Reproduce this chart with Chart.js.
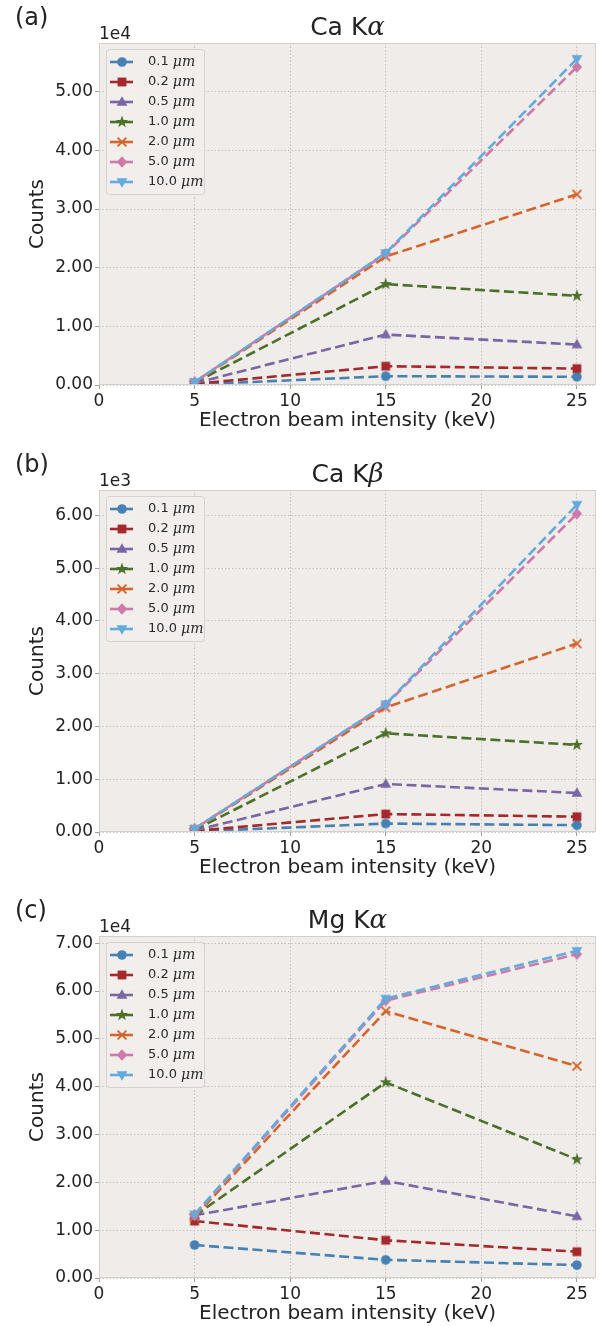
<!DOCTYPE html>
<html lang="en">
<head>
<meta charset="UTF-8">
<title>X-ray line counts vs electron beam energy</title>
<script src="https://cdn.jsdelivr.net/npm/chart.js"></script>
<style>
  body { margin:0; background:#fff; width:604px; height:1326px; position:relative; overflow:hidden; }
  canvas { position:absolute; left:0; }
</style>
</head>
<body>
<canvas id="chartA" width="604" height="447" style="top:0"></canvas>
<canvas id="chartB" width="604" height="446" style="top:447px"></canvas>
<canvas id="chartC" width="604" height="433" style="top:893px"></canvas>
<script>
// ---- data ----
const energies = [5, 15, 25];                 // keV
const thickness = ['0.1', '0.2', '0.5', '1.0', '2.0', '5.0', '10.0'];
const xTicks = [0, 5, 10, 15, 20, 25];

// Ca K-alpha counts, one row per thickness (x = 5, 15, 25 keV)
const caKaCounts = [
  [100, 1500, 1400],
  [200, 3200, 2800],
  [300, 8600, 6900],
  [400, 17200, 15200],
  [400, 21900, 32500],
  [500, 22400, 54200],
  [500, 22500, 55600]
];
// Ca K-beta counts
const caKbCounts = [
  [10, 160, 130],
  [20, 340, 290],
  [30, 910, 740],
  [40, 1870, 1650],
  [50, 2360, 3570],
  [60, 2410, 6030],
  [60, 2420, 6200]
];
// Mg K-alpha counts
const mgKaCounts = [
  [6900, 3800, 2700],
  [11900, 7900, 5500],
  [13100, 20300, 12900],
  [13000, 40900, 24800],
  [12800, 55800, 44300],
  [13100, 58000, 67700],
  [13300, 58400, 68400]
];
const yTicksA = [0, 1, 2, 3, 4, 5];
const yTicksB = [0, 1, 2, 3, 4, 5, 6];
const yTicksC = [0, 1, 2, 3, 4, 5, 6, 7];

// bmh-like colours (a bit muted, as in the scan) and markers
const colors = ['#4581b4', '#a5282d', '#7a66a5', '#4b7029', '#d5652c', '#cd7aa8', '#62abdc'];
const markers = ['circle', 'square', 'triangle', 'star', 'x', 'diamond', 'tridown'];
const axesBg = '#efece9';
const textColor = '#222';

function markerImage(kind, color) {
  const s = 16, c = document.createElement('canvas');
  c.width = c.height = s;
  const g = c.getContext('2d');
  g.translate(s / 2, s / 2);
  g.fillStyle = color; g.strokeStyle = color;
  g.beginPath();
  switch (kind) {
    case 'circle': g.arc(0, 0, 4.8, 0, Math.PI * 2); break;
    case 'square': g.rect(-4.4, -4.4, 8.8, 8.8); break;
    case 'triangle': g.moveTo(0, -5.8); g.lineTo(5.4, 3.8); g.lineTo(-5.4, 3.8); g.closePath(); break;
    case 'tridown': g.moveTo(0, 5.8); g.lineTo(5.4, -3.8); g.lineTo(-5.4, -3.8); g.closePath(); break;
    case 'diamond': g.moveTo(0, -5.8); g.lineTo(5.2, 0); g.lineTo(0, 5.8); g.lineTo(-5.2, 0); g.closePath(); break;
    case 'star':
      for (let k = 0; k < 10; k++) {
        const r = k % 2 ? 2.6 : 6.4, ang = -Math.PI / 2 + k * Math.PI / 5;
        g.lineTo(r * Math.cos(ang), r * Math.sin(ang));
      }
      g.closePath(); break;
    case 'x':
      g.moveTo(-4.4, -4.4); g.lineTo(4.4, 4.4); g.moveTo(4.4, -4.4); g.lineTo(-4.4, 4.4);
      g.lineWidth = 1.9; g.stroke();
      return c;
  }
  g.fill();
  return c;
}
const markerImgs = markers.map((m, i) => markerImage(m, colors[i]));

// frame, title, panel letter, offset text and in-axes legend
const panelDecor = {
  id: 'panelDecor',
  beforeDraw(chart) {
    const { ctx, chartArea: a } = chart;
    ctx.save();
    ctx.fillStyle = '#fff';
    ctx.fillRect(0, 0, chart.width, chart.height);
    ctx.fillStyle = axesBg;
    ctx.fillRect(a.left, a.top, a.right - a.left, a.bottom - a.top);
    ctx.restore();
  },
  afterDraw(chart, args, o) {
    const { ctx, chartArea: a } = chart;
    ctx.save();
    ctx.strokeStyle = '#d3cfcb';
    ctx.lineWidth = 1;
    ctx.strokeRect(a.left + 0.5, a.top + 0.5, a.right - a.left - 1, a.bottom - a.top - 1);

    ctx.fillStyle = textColor;
    ctx.textBaseline = 'alphabetic';
    // panel letter
    ctx.font = '24px "DejaVu Sans"';
    ctx.textAlign = 'left';
    ctx.fillText(o.panel, 15, 25);
    // title with a math symbol
    const f1 = '25px "DejaVu Sans"', f2 = 'italic 26px "DejaVu Serif"';
    ctx.font = f1; const w1 = ctx.measureText(o.title[0]).width;
    ctx.font = f2; const w2 = ctx.measureText(o.title[1]).width;
    const tx = (a.left + a.right) / 2 - (w1 + w2) / 2;
    ctx.font = f1; ctx.fillText(o.title[0], tx, a.top - 8);
    ctx.font = f2; ctx.fillText(o.title[1], tx + w1, a.top - 8);
    // offset text
    ctx.font = '17px "DejaVu Sans"';
    ctx.fillText(o.offset, a.left, a.top - 4);

    // legend
    const bx = a.left + 7, by = a.top + 6, bw = 98, bh = 145;
    ctx.beginPath();
    ctx.roundRect(bx + 0.5, by + 0.5, bw, bh, 3);
    ctx.fillStyle = 'rgba(241,238,235,0.85)';
    ctx.fill();
    ctx.strokeStyle = '#d6d2ce';
    ctx.stroke();
    chart.data.datasets.forEach((ds, i) => {
      const y = a.top + 19 + i * 20;
      ctx.strokeStyle = ds.borderColor;
      ctx.lineWidth = 2.6;
      ctx.beginPath();
      ctx.moveTo(a.left + 11, y); ctx.lineTo(a.left + 34, y);
      ctx.stroke();
      const img = ds.pointStyle;
      ctx.drawImage(img, a.left + 23 - img.width / 2, y - img.height / 2);
      ctx.fillStyle = '#2a2a2a';
      ctx.textBaseline = 'middle';
      ctx.font = '13px "DejaVu Sans"';
      const t = thickness[i] + ' ';
      ctx.fillText(t, a.left + 49, y);
      const tw = ctx.measureText(t).width;
      ctx.font = 'italic 14px "DejaVu Serif"';
      ctx.fillText('\u03bcm', a.left + 49 + tw, y);
    });
    ctx.restore();
  }
};

function buildChart(id, counts, cfg) {
  const tickFont = { family: 'DejaVu Sans', size: 17 };
  const titleFont = { family: 'DejaVu Sans', size: 20 };
  const grid = {
    color: '#b9b5b1', lineWidth: 0.8, borderDash: [1.5, 2],
    drawTicks: true, tickLength: 4, tickColor: '#a09c98', tickWidth: 1, tickBorderDash: []
  };
  const datasets = counts.map((vals, i) => ({
    label: thickness[i] + ' \u03bcm',
    data: energies.map((e, j) => ({ x: e, y: vals[j] })),
    borderColor: colors[i],
    backgroundColor: colors[i],
    borderWidth: 2.6,
    borderDash: [10, 4.5],
    borderDashOffset: i === 5 ? cfg.pinkOffset : 0,
    pointStyle: markerImgs[i],
    pointRadius: 5,
    pointHoverRadius: 5,
    tension: 0,
    clip: 0,
    order: counts.length - i
  }));
  return new Chart(document.getElementById(id), {
    type: 'line',
    data: { datasets },
    plugins: [panelDecor],
    options: {
      responsive: false,
      animation: false,
      events: [],
      layout: { padding: { top: 43, right: 8, left: 0, bottom: 0 } },
      plugins: {
        legend: { display: false },
        title: { display: false },
        tooltip: { enabled: false },
        panelDecor: { panel: cfg.panel, title: cfg.title, offset: cfg.offset }
      },
      scales: {
        x: {
          type: 'linear', min: 0, max: 26,
          afterBuildTicks: s => { s.ticks = xTicks.map(v => ({ value: v })); },
          afterFit: s => { s.height = cfg.xHeight; },
          ticks: { font: tickFont, color: textColor, padding: 2, maxRotation: 0, autoSkip: false },
          grid: grid,
          border: { display: false, dash: [1.5, 2] },
          title: {
            display: true, text: 'Electron beam intensity (keV)', font: titleFont, color: textColor,
            padding: { top: 0, bottom: cfg.xTitlePad }
          }
        },
        y: {
          type: 'linear', min: 0, max: cfg.yMax,
          afterBuildTicks: s => { s.ticks = cfg.yTicks.map(v => ({ value: v * cfg.factor })); },
          afterFit: s => { s.width = 99; },
          ticks: {
            font: tickFont, color: textColor, padding: 2, autoSkip: false,
            callback: v => (v / cfg.factor).toFixed(2)
          },
          grid: grid,
          border: { display: false, dash: [1.5, 2] },
          title: {
            display: true, text: 'Counts', font: titleFont, color: textColor,
            padding: { top: 26, bottom: 0 }
          }
        }
      }
    }
  });
}

buildChart('chartA', caKaCounts, {
  panel: '(a)', title: ['Ca K', '\u03b1'], offset: '1e4', pinkOffset: 7,
  factor: 1e4, yMax: 58300, yTicks: yTicksA, xHeight: 62, xTitlePad: 14
});
buildChart('chartB', caKbCounts, {
  panel: '(b)', title: ['Ca K', '\u03b2'], offset: '1e3', pinkOffset: 7,
  factor: 1e3, yMax: 6480, yTicks: yTicksB, xHeight: 61, xTitlePad: 13
});
buildChart('chartC', mgKaCounts, {
  panel: '(c)', title: ['Mg K', '\u03b1'], offset: '1e4', pinkOffset: 0,
  factor: 1e4, yMax: 71500, yTicks: yTicksC, xHeight: 48, xTitlePad: 0
});
</script>
</body>
</html>
